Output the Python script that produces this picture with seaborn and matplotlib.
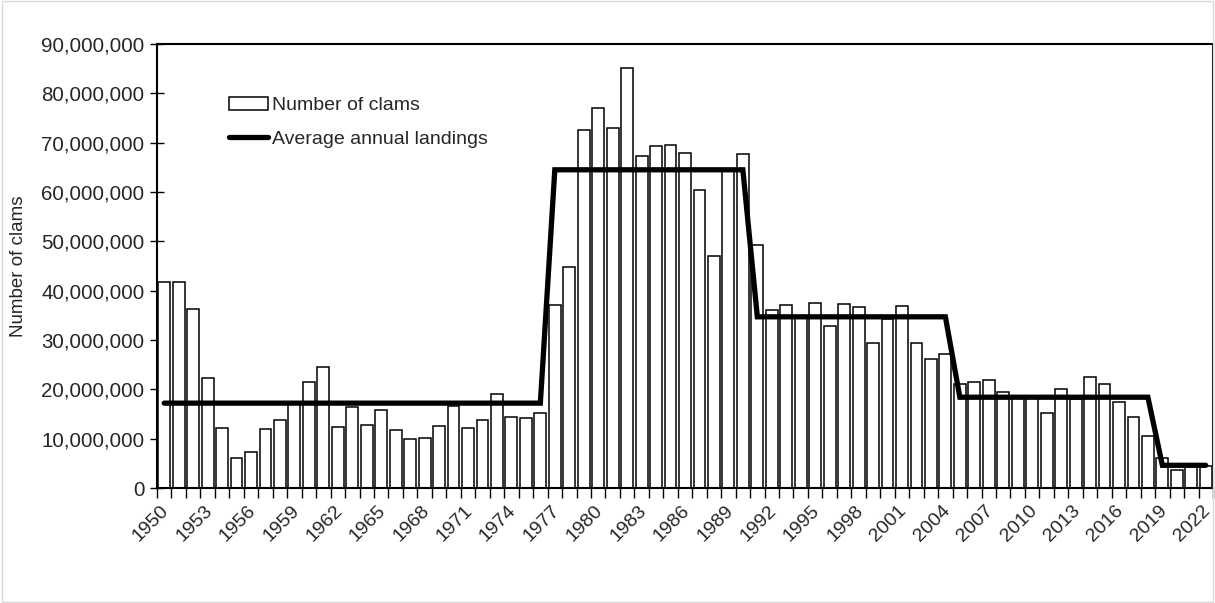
import numpy as np
import pandas as pd
import matplotlib
matplotlib.use("Agg")
import matplotlib.pyplot as plt
import seaborn as sns
from matplotlib.patches import Patch, Rectangle
from matplotlib.lines import Line2D
from matplotlib.ticker import FuncFormatter, FixedLocator
from matplotlib.transforms import ScaledTranslation

years = list(range(1950, 2023))
clams = [
    41.8, 41.8, 36.2, 22.2, 12.2, 6.1, 7.3, 12.0, 13.8, 17.0,
    21.5, 24.5, 12.3, 16.5, 12.8, 15.8, 11.7, 10.0, 10.2, 12.6,
    16.6, 12.1, 13.7, 19.0, 14.4, 14.2, 15.3, 37.0, 44.7, 72.6,
    77.1, 73.0, 85.2, 67.3, 69.4, 69.6, 68.0, 60.4, 47.0, 64.5,
    67.8, 49.3, 36.0, 37.0, 34.5, 37.6, 32.8, 37.2, 36.6, 29.3,
    34.3, 36.8, 29.3, 26.2, 27.2, 21.0, 21.5, 21.9, 19.4, 18.3,
    18.3, 15.2, 20.1, 18.0, 22.4, 21.0, 17.5, 14.4, 10.6, 6.1,
    3.7, 4.5, 4.5,
]
clams = [v * 1e6 for v in clams]

period_start = [1950, 1977, 1991, 2005, 2019]
period_end = [1976, 1990, 2004, 2018, 2022]
period_avg = [17.2e6, 64.5e6, 34.7e6, 18.4e6, 4.6e6]

avg = []
for y in years:
    for s, e, a in zip(period_start, period_end, period_avg):
        if s <= y <= e:
            avg.append(a)
            break

df = pd.DataFrame({"year": years, "clams": clams, "avg": avg})
df["pos"] = np.arange(len(df))

sns.set_style("white")
plt.rcParams["font.family"] = ["Liberation Sans", "DejaVu Sans"]

fig = plt.figure(figsize=(12.15, 6.03), dpi=100)
ax = fig.add_axes([157 / 1215, 1 - 488 / 603, (1213 - 157) / 1215, (488 - 44) / 603])

sns.barplot(data=df, x="year", y="clams", color="white", edgecolor="black",
            linewidth=1.1, width=0.82, saturation=1, ax=ax, native_scale=False)
for p in ax.patches:
    p.set_facecolor("white")
sns.lineplot(data=df, x="pos", y="avg", color="black", linewidth=3.8, ax=ax,
             solid_joinstyle="miter")

n = len(years)
ax.set_xlim(-0.5, n - 0.5)
ax.set_ylim(0, 90e6)
ax.set_yticks(np.arange(0, 90e6 + 1, 10e6))
ax.yaxis.set_major_formatter(FuncFormatter(lambda v, p: f"{int(v):,}"))

label_pos = [i for i, y in enumerate(years) if (y - 1950) % 3 == 0]
ax.set_xticks(label_pos)
ax.set_xticklabels([str(years[i]) for i in label_pos], rotation=45,
                   ha="right", rotation_mode="anchor")
ax.xaxis.set_minor_locator(FixedLocator(np.arange(-0.5, n, 1.0)))
ax.tick_params(axis="x", which="major", length=0, pad=10, labelsize=14)
ax.tick_params(axis="x", which="minor", length=7, width=1, color="black",
               direction="out", bottom=True)
ax.tick_params(axis="y", which="major", length=10, width=1, color="black",
               direction="inout", labelsize=14.8, pad=4, left=True)
shift = ScaledTranslation(-4 / 100, 0, fig.dpi_scale_trans)
for lab in ax.get_xticklabels():
    lab.set_transform(lab.get_transform() + shift)

ax.set_xlabel("")
ax.set_ylabel("Number of clams", fontsize=13.5, labelpad=10)

for s in ax.spines.values():
    s.set_visible(True)
    s.set_color("black")
    s.set_linewidth(1.5)

handles = [Patch(facecolor="white", edgecolor="black", linewidth=1.1),
           Line2D([0], [0], color="black", linewidth=3.8)]
ax.legend(handles, ["Number of clams", "Average annual landings"],
          loc="upper left", bbox_to_anchor=(0.068, 0.88), frameon=False,
          fontsize=14, handlelength=2.0, handleheight=0.6, handletextpad=0.2,
          labelspacing=0.85, borderaxespad=0, borderpad=0)

fig.patches.append(Rectangle((0.002, 0.002), 0.996, 0.996, transform=fig.transFigure,
                             fill=False, edgecolor="#d9d9d9", linewidth=1))

fig.savefig("out.png", dpi=100)
